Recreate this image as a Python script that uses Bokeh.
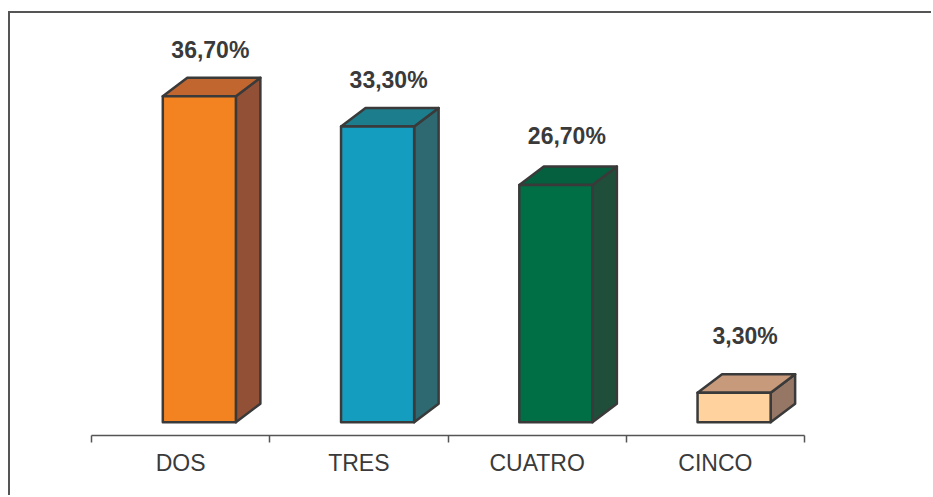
import numpy as np
from bokeh.plotting import figure
from bokeh.models import Range1d, LinearAxis, FixedTicker
from bokeh.core.properties import value
from bokeh.embed import file_html
from bokeh.resources import INLINE

# ---- data ----
categories = ["DOS", "TRES", "CUATRO", "CINCO"]
percentages = [36.7, 33.3, 26.7, 3.3]
value_labels = ["36,70%", "33,30%", "26,70%", "3,30%"]
front_colors = ["#F38321", "#149DBE", "#006F46", "#FFD29E"]
top_colors = ["#C0662E", "#1C7D8C", "#05603F", "#C79A7C"]
side_colors = ["#925036", "#2E6870", "#1F4E3A", "#967765"]

# ---- geometry (frame scale: x 178.25 px/unit, y 8.88 px/unit) ----
FONT = "Liberation Sans"
TXT = "#3a3a3a"
n = len(categories)
idx = np.arange(n, dtype=float)
vals = np.array(percentages)
L = idx + 0.40
R = idx + 0.81
DX = 24.5 / 178.25
DY = 18.5 / 8.88

p = figure(width=923, height=484, output_backend="svg", toolbar_location=None,
           x_range=Range1d(0, n), y_range=Range1d(-1.5, 44.1),
           x_axis_location=None, y_axis_location=None,
           min_border_left=81, min_border_right=129, min_border_top=17,
           min_border_bottom=62,
           styles={"margin-left": "10px", "margin-top": "13px",
                   "box-shadow": "-2px -2px 0px 0px #555555"})
p.grid.visible = False
p.outline_line_color = None
p.background_fill_color = "white"
p.border_fill_color = "white"

# side faces
side_xs = [[r, r + DX, r + DX, r] for r in R]
side_ys = [[0, DY, v + DY, v] for v in vals]
p.patches(side_xs, side_ys, fill_color=side_colors, line_color=TXT, line_width=2.5,
          line_join="round")
# top faces
top_xs = [[l, r, r + DX, l + DX] for l, r in zip(L, R)]
top_ys = [[v, v, v + DY, v + DY] for v in vals]
p.patches(top_xs, top_ys, fill_color=top_colors, line_color=TXT, line_width=2.5,
          line_join="round")
# front faces
p.quad(left=L, right=R, bottom=0, top=vals, fill_color=front_colors,
       line_color=TXT, line_width=2.5, line_join="round")

# value labels
label_gap_px = 39 - 0.32 * vals
p.text(x=(L + R) / 2 + 11 / 178.25, y=vals + DY + label_gap_px / 8.88, text=value_labels,
       text_font=value(FONT), text_font_style="bold", text_font_size="23px",
       text_color=TXT, text_align="center", text_baseline="middle")

# category axis: labels at centers, tick marks at boundaries (minor ticks)
ax = LinearAxis(ticker=FixedTicker(ticks=list(idx + 0.5), minor_ticks=list(range(n + 1))),
                major_label_overrides={float(i + 0.5): c for i, c in enumerate(categories)})
ax.major_tick_line_color = None
ax.major_tick_out = 0
ax.major_tick_in = 0
ax.minor_tick_in = 0
ax.minor_tick_out = 7
ax.minor_tick_line_color = "#555555"
ax.minor_tick_line_width = 1.5
ax.axis_line_color = "#555555"
ax.axis_line_width = 1.5
ax.major_label_standoff = 7
ax.major_label_text_font = FONT
ax.major_label_text_font_size = "23px"
ax.major_label_text_color = TXT
p.add_layout(ax, "below")

open("out.html", "w").write(file_html(p, INLINE))
